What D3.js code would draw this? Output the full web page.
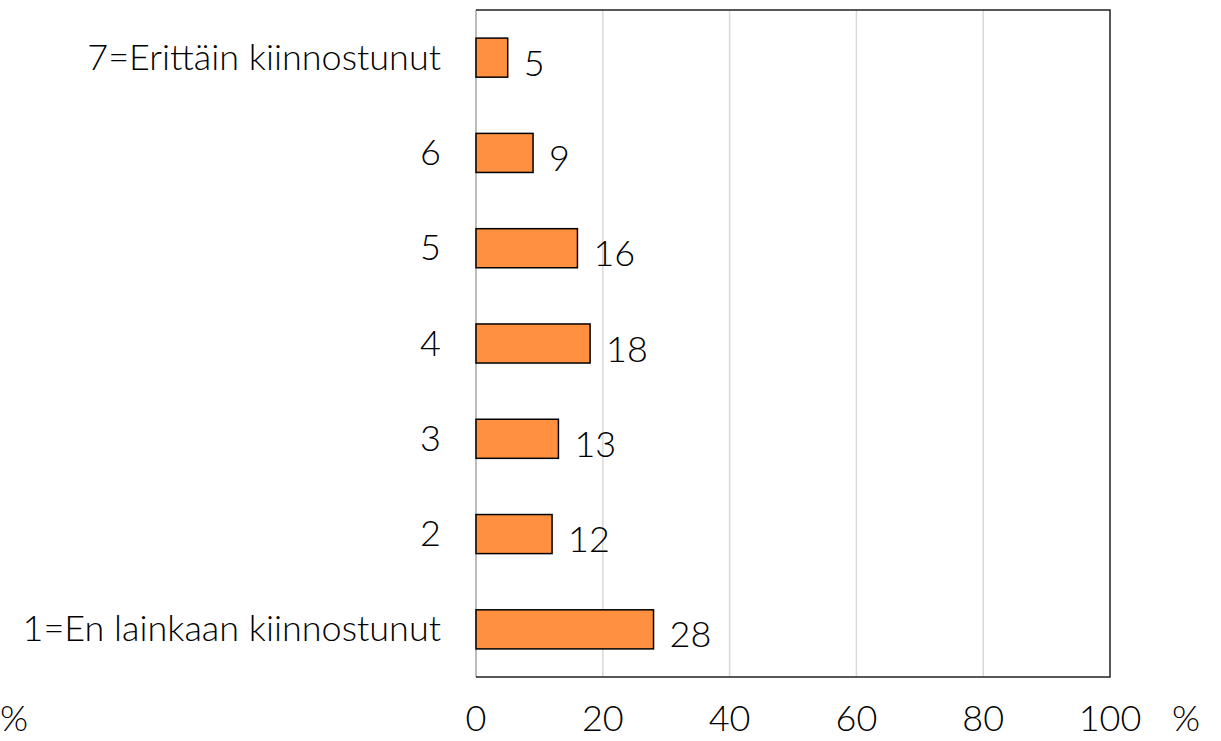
<!DOCTYPE html>
<html><head><meta charset="utf-8">
<script src="https://cdn.jsdelivr.net/npm/d3@7"></script>
<style>
body{margin:0;background:#fff;}
text{font-family:Lato,"Open Sans",sans-serif;fill:#000;font-weight:300;}
</style></head>
<body><svg id="c" width="1221" height="741"></svg>
<script>
const categories = ["7=Erittäin kiinnostunut","6","5","4","3","2","1=En lainkaan kiinnostunut"];
const values = [5,9,16,18,13,12,28];
const ticks = [0,20,40,60,80,100];

const svg = d3.select("#c");
const m = {l:476, r:1110, t:10, b:677};
const fs = 36;
const x = d3.scaleLinear().domain([0,100]).range([m.l, m.r]);
const y = d3.scaleBand().domain(categories).range([m.t, m.b]).paddingInner(0.59).paddingOuter(0.295);

svg.append("g").selectAll("line").data(ticks.slice(1,-1)).join("line")
  .attr("x1",d=>x(d)).attr("x2",d=>x(d)).attr("y1",m.t).attr("y2",m.b)
  .attr("stroke","#d9d9d9").attr("stroke-width",1.5);

svg.append("line").attr("x1",m.l).attr("x2",m.l).attr("y1",m.t).attr("y2",m.b).attr("stroke","#a6a6a6").attr("stroke-width",1.5);
svg.append("path").attr("d",`M${m.l},${m.t}H${m.r}V${m.b}H${m.l}`).attr("fill","none").attr("stroke","#222").attr("stroke-width",1.5);

svg.append("g").selectAll("rect").data(values).join("rect")
  .attr("x",x(0)).attr("y",(d,i)=>y(categories[i]))
  .attr("width",d=>x(d)-x(0)).attr("height",y.bandwidth())
  .attr("fill","#ff9040").attr("stroke","#000").attr("stroke-width",1.5);

svg.append("g").selectAll("text").data(values).join("text")
  .attr("x",d=>x(d)+16).attr("y",(d,i)=>y(categories[i])+y.bandwidth()/2+18)
  .attr("font-size",fs).text(d=>d);

svg.append("g").selectAll("text").data(categories).join("text")
  .attr("x",441).attr("y",d=>y(d)+y.bandwidth()/2+12)
  .attr("text-anchor","end").attr("font-size",fs).text(d=>d);

svg.append("g").selectAll("text").data(ticks).join("text")
  .attr("x",d=>x(d)).attr("y",731).attr("text-anchor","middle").attr("font-size",fs).text(d=>d);

svg.append("text").attr("x",1186).attr("y",731).attr("text-anchor","middle").attr("font-size",fs).text("%");
svg.append("text").attr("x",0).attr("y",731).attr("text-anchor","start").attr("font-size",fs).text("%");
</script></body></html>
